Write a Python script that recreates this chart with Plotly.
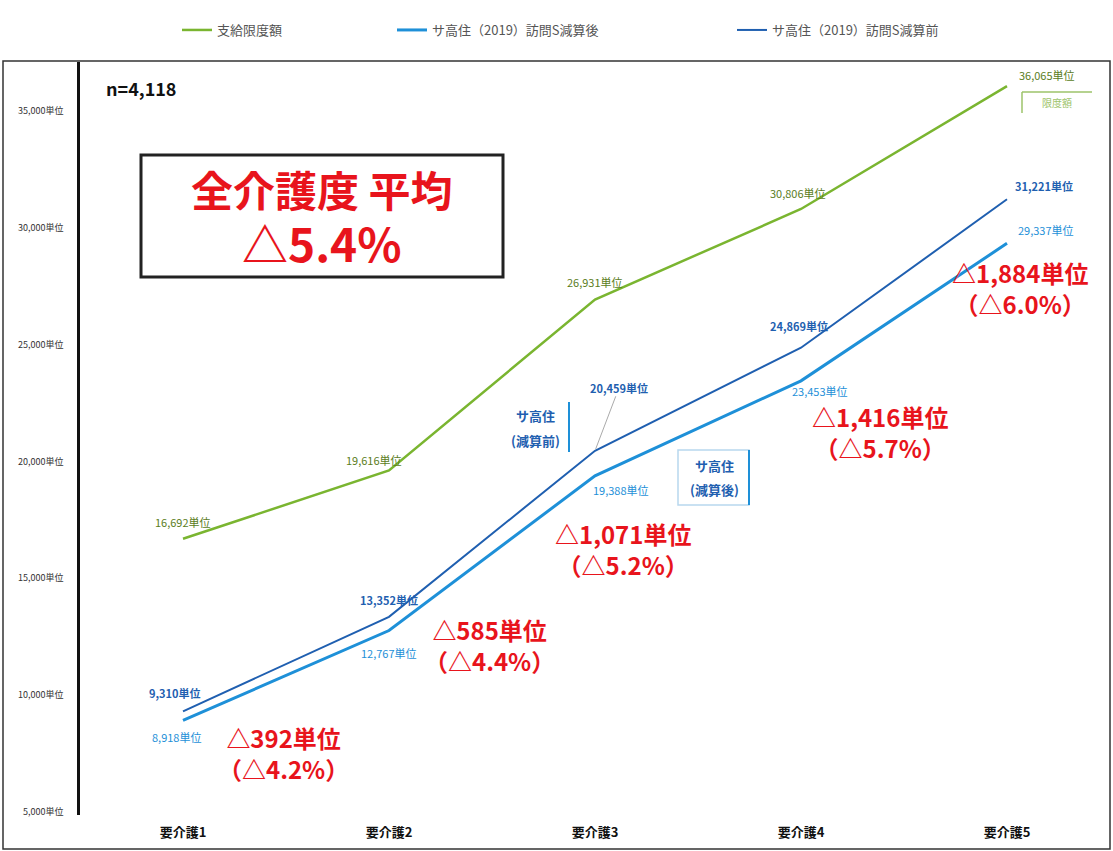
import plotly.graph_objects as go

categories = ["要介護1", "要介護2", "要介護3", "要介護4", "要介護5"]
limit_values = [16692, 19616, 26931, 30806, 36065]
before_values = [9310, 13352, 20459, 24869, 31221]
after_values = [8918, 12767, 19388, 23453, 29337]
ytick_vals = [5000, 10000, 15000, 20000, 25000, 30000, 35000]
ytick_text = [f"{v:,}単位" for v in ytick_vals]

name_limit = "支給限度額"
name_after = "サ高住（2019）訪問S減算後"
name_before = "サ高住（2019）訪問S減算前"

GREEN = "#7ab530"
GREEN_TXT = "#5b7d1c"
DBLUE = "#1f5fb0"
LBLUE = "#1e90d8"
RED = "#e8141c"
JP = "Noto Sans CJK JP"

W, H = 1113, 851
ML, MR, MT, MB = 80, 3, 62, 36


def px(x):
    return (x - ML) / (W - ML - MR)


def py(y):
    return (H - MB - y) / (H - MT - MB)


def pann(x, y, text, size, color, xanchor="center"):
    return dict(xref="paper", yref="paper", x=px(x), y=py(y), text=text, showarrow=False,
                xanchor=xanchor, yanchor="middle", borderpad=0,
                font=dict(family=JP, size=size, color=color))


fig = go.Figure()
fig.add_trace(go.Scatter(x=categories, y=limit_values, mode="lines", name=name_limit,
                         line=dict(color=GREEN, width=2.5), legend="legend"))
fig.add_trace(go.Scatter(x=categories, y=after_values, mode="lines", name=name_after,
                         line=dict(color=LBLUE, width=3), legend="legend2"))
fig.add_trace(go.Scatter(x=categories, y=before_values, mode="lines", name=name_before,
                         line=dict(color=DBLUE, width=2), legend="legend3"))

ann = []
# data labels
g_off = [(0, 17), (-15, 10), (0, 18), (-3, 16), (40, 11)]
for c, v, (dx, dy) in zip(categories, limit_values, g_off):
    ann.append(dict(x=c, y=v, text=f"{v:,}単位", showarrow=False, xshift=dx, yshift=dy,
                    xanchor="center", yanchor="middle", borderpad=0,
                    font=dict(family=JP, size=11, color=GREEN_TXT)))
b_off = [(-8, 18), (0, 17), None, (-2, 22), (37, 13)]
for c, v, off in zip(categories, before_values, b_off):
    if off is None:
        ann.append(dict(x=c, y=v, text=f"<b>{v:,}単位</b>", showarrow=True, arrowhead=0,
                        arrowwidth=1, arrowcolor="#aaaaaa", ax=24, ay=-63, standoff=2,
                        borderpad=0, font=dict(family=JP, size=11, color=DBLUE)))
    else:
        ann.append(dict(x=c, y=v, text=f"<b>{v:,}単位</b>", showarrow=False, xshift=off[0],
                        yshift=off[1], xanchor="center", yanchor="middle", borderpad=0,
                        font=dict(family=JP, size=11, color=DBLUE)))
a_off = [(-7, -17), (0, -22), (26, -14), (19, -10), (39, 13)]
for c, v, (dx, dy) in zip(categories, after_values, a_off):
    ann.append(dict(x=c, y=v, text=f"{v:,}単位", showarrow=False, xshift=dx, yshift=dy,
                    xanchor="center", yanchor="middle", borderpad=0,
                    font=dict(family=JP, size=11, color=LBLUE)))

# red difference annotations (two lines each)
red_pos = [(283, 753), (489, 645), (623, 549), (880, 432), (1020, 288)]
for b, a, (x, y) in zip(before_values, after_values, red_pos):
    d = b - a
    pct = d / b * 100
    ann.append(pann(x, y, f"<b>△{d:,}単位<br>（△{pct:.1f}%）</b>", 24, RED))

ann.append(pann(105, 88, "<b>n=4,118</b>", 18, "#111111", xanchor="left"))
ann.append(pann(322, 216, "<b>全介護度 平均<br><span style='font-size:46px'>△5.4%</span></b>", 42, RED))
ann.append(pann(535, 415, "<b>サ高住</b>", 13, DBLUE))
ann.append(pann(535, 440, "<b>(減算前)</b>", 13, DBLUE))
ann.append(pann(714, 465, "<b>サ高住</b>", 13, DBLUE))
ann.append(pann(714, 490, "<b>(減算後)</b>", 13, DBLUE))
ann.append(pann(1057, 103, "限度額", 10, "#9cc36a"))

shapes = [
    dict(type="rect", xref="paper", yref="paper", x0=px(3), x1=px(1110), y0=py(849), y1=py(61),
         line=dict(color="#333333", width=1.5)),
    dict(type="rect", xref="paper", yref="paper", x0=px(141), x1=px(503), y0=py(277), y1=py(155),
         line=dict(color="#222222", width=3), fillcolor="white", layer="below"),
    dict(type="line", xref="paper", yref="paper", x0=px(569), x1=px(569), y0=py(452), y1=py(402),
         line=dict(color=LBLUE, width=2)),
    dict(type="rect", xref="paper", yref="paper", x0=px(678), x1=px(749), y0=py(505), y1=py(450),
         line=dict(color="#b8d8ee", width=1.5)),
    dict(type="line", xref="paper", yref="paper", x0=px(749), x1=px(749), y0=py(505), y1=py(450),
         line=dict(color=LBLUE, width=2)),
    dict(type="line", xref="paper", yref="paper", x0=px(1022), x1=px(1092), y0=py(92), y1=py(92),
         line=dict(color="#9cc36a", width=1.5)),
    dict(type="line", xref="paper", yref="paper", x0=px(1022), x1=px(1022), y0=py(113), y1=py(92),
         line=dict(color="#9cc36a", width=1.5)),
]

legend_common = dict(orientation="h", yanchor="middle", xanchor="left", y=py(30),
                     font=dict(family=JP, size=13, color="#555555"), bgcolor="rgba(0,0,0,0)",
                     itemwidth=30)

fig.update_layout(
    width=W, height=H,
    margin=dict(l=ML, r=MR, t=MT, b=MB),
    paper_bgcolor="white", plot_bgcolor="white",
    showlegend=True,
    legend=dict(legend_common, x=px(177)),
    legend2=dict(legend_common, x=px(392)),
    legend3=dict(legend_common, x=px(732)),
    xaxis=dict(type="category", range=[-0.5, 4.5], showgrid=False, zeroline=False, showline=False,
               ticks="", ticklabelstandoff=8, tickfont=dict(family=JP, size=13, color="#111111"),
               tickprefix="<b>", ticksuffix="</b>"),
    yaxis=dict(range=[4872, 37097], tickvals=ytick_vals, ticktext=ytick_text,
               showgrid=False, zeroline=False, showline=True, linecolor="#111111", linewidth=2.5,
               ticks="", ticklabelstandoff=12, tickfont=dict(family=JP, size=9, color="#333333")),
    annotations=ann,
    shapes=shapes,
)

fig.write_html("out.html")
